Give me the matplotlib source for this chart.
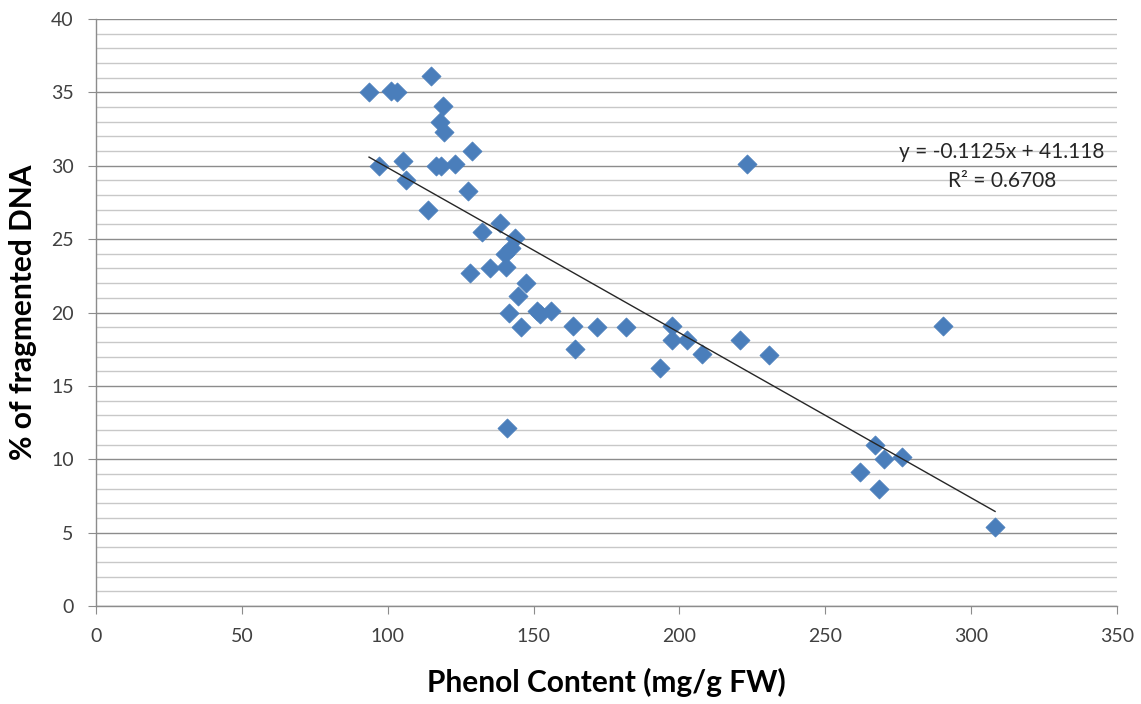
import numpy as np
import matplotlib
matplotlib.use("Agg")
import matplotlib.pyplot as plt
from matplotlib.ticker import MultipleLocator

# phenol content (mg/g FW) vs % of fragmented DNA
phenol = [93.6, 101.1, 103.2, 114.8, 119.0, 117.9, 119.3, 97.0, 105.2, 106.3,
          116.6, 118.3, 123.1, 128.9, 113.8, 127.5, 138.5, 132.3, 143.6, 142.3,
          140.2, 135.1, 140.6, 128.2, 147.4, 144.7, 141.6, 151.2, 152.2, 156.0,
          145.7, 163.5, 171.8, 181.7, 164.2, 140.9, 193.4, 197.5, 197.5, 202.7,
          207.8, 220.8, 223.2, 230.7, 290.4, 267.1, 270.2, 276.3, 261.9, 268.4,
          308.2]
frag_dna = [35.0, 35.1, 35.0, 36.1, 34.1, 33.0, 32.3, 30.0, 30.3, 29.0,
            30.0, 30.0, 30.1, 31.0, 27.0, 28.3, 26.1, 25.5, 25.1, 24.4,
            24.0, 23.0, 23.1, 22.7, 22.0, 21.1, 20.0, 20.1, 19.9, 20.1,
            19.0, 19.1, 19.0, 19.0, 17.5, 12.1, 16.2, 19.1, 18.1, 18.1,
            17.2, 18.1, 30.1, 17.1, 19.1, 11.0, 10.0, 10.15, 9.1, 8.0,
            5.4]

slope = -0.1125
intercept = 41.118
r_squared = 0.6708

plt.rcParams["font.family"] = ["Lato", "DejaVu Sans"]

fig = plt.figure(figsize=(11.41, 7.04), dpi=100)
ax = fig.add_axes([96 / 1141, 1 - 606 / 704, (1117 - 96) / 1141, (606 - 19) / 704])

ax.set_xlim(0, 350)
ax.set_ylim(0, 40)
ax.xaxis.set_major_locator(MultipleLocator(50))
ax.yaxis.set_major_locator(MultipleLocator(5))
ax.yaxis.set_minor_locator(MultipleLocator(1))

ax.grid(True, which="major", axis="y", color="#8c8c8c", linewidth=1.0)
ax.grid(True, which="minor", axis="y", color="#c8c8c8", linewidth=1.0)
ax.set_axisbelow(True)

ax.scatter(phenol, frag_dna, marker="D", s=95, color="#4a7ebb",
           edgecolors="#4a7ebb", linewidths=0.5, zorder=3)

xs = np.array([min(phenol), max(phenol)])
ax.plot(xs, slope * xs + intercept, color="#262626", linewidth=1.0, zorder=4)

# trendline equation box, placed like Excel's label (figure coords)
fig.text(1002 / 1141, 1 - 152 / 704, f"y = {slope}x + {intercept}",
         fontsize=15, ha="center", va="center", color="#262626")
fig.text(1002 / 1141, 1 - 181 / 704, f"R\u00b2 = {r_squared}",
         fontsize=15, ha="center", va="center", color="#262626")

for side in ("top", "right"):
    ax.spines[side].set_visible(False)
for side in ("left", "bottom"):
    ax.spines[side].set_color("#8c8c8c")
    ax.spines[side].set_linewidth(1.0)

ax.tick_params(axis="both", which="major", direction="out", length=6,
               color="#8c8c8c", labelsize=14, labelcolor="#404040", pad=10)
ax.tick_params(axis="y", which="minor", length=0)

ax.set_xlabel("Phenol Content (mg/g FW)", fontsize=21.5, fontweight="bold",
              labelpad=16)
ax.set_ylabel("% of fragmented DNA", fontsize=21.5, fontweight="bold",
              labelpad=10)

fig.savefig("out.png", dpi=100)
